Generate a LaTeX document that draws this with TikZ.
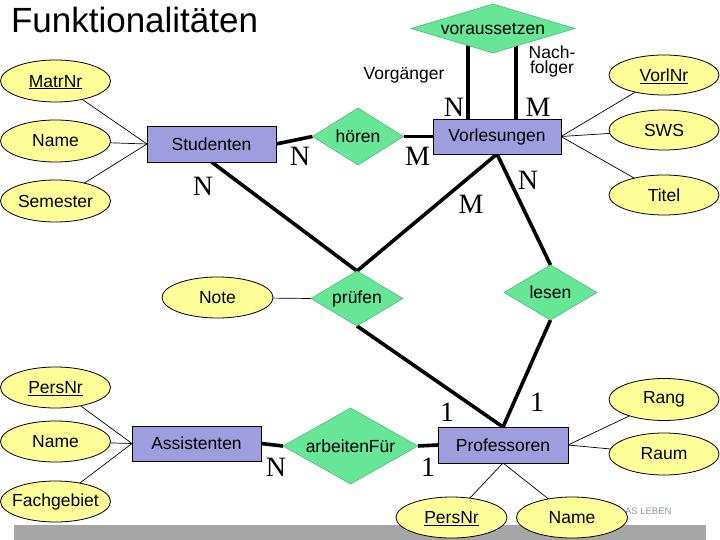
\documentclass[tikz,border=0pt]{standalone}
\usepackage{fontspec}
\setmainfont{Liberation Sans}
\newfontfamily\serifnum{Liberation Serif}
\usetikzlibrary{shapes.geometric,backgrounds,calc}
\definecolor{attrfill}{RGB}{255,255,153}
\definecolor{relfill}{RGB}{102,230,150}
\definecolor{reldraw}{RGB}{70,180,115}
\definecolor{entfill}{RGB}{158,158,222}
\definecolor{barfill}{RGB}{166,166,166}
\definecolor{logotext}{RGB}{140,150,165}
\newcommand\attxt[1]{\makebox[0pt]{#1}}
\newcommand\keyattr[1]{\makebox[0pt]{\raisebox{0pt}[\height][0pt]{\underline{#1}}}}
\begin{document}
\begin{tikzpicture}[x=1pt,y=-1pt,
  every node/.style={inner sep=0pt, outer sep=0pt},
  txt/.style={font=\fontsize{17.5}{20}\selectfont},
  attr/.style={ellipse, draw=black, line width=0.8pt, fill=attrfill, minimum width=110pt, minimum height=42pt, txt},
  entity/.style={rectangle, draw=black, line width=0.8pt, fill=entfill, minimum width=129pt, minimum height=36pt, txt},
  rel/.style={diamond, draw=reldraw, line width=0.5pt, fill=relfill, txt},
  card/.style={font=\serifnum\fontsize{28}{28}\selectfont},
  thin link/.style={line width=0.7pt},
  thick link/.style={line width=3.6pt},
]
\useasboundingbox (0,0) rectangle (720,540);

% title
\node[anchor=base west, font=\fontsize{35}{40}\selectfont] (title) at (11,33) {Funktionalitäten};

% entities
\node[entity] (stud) at (211.5,144) {Studenten};
\node[entity, minimum width=128pt, minimum height=35pt] (vorl) at (497,136.5) {Vorlesungen};
\node[entity, minimum height=35pt] (assist) at (196.5,443.5) {Assistenten};
\node[entity, minimum width=130pt] (prof) at (503,445) {Professoren};

% relationships
\node[rel, minimum width=164pt, minimum height=49pt, aspect=3.35] (vors) at (493,28.5) {voraussetzen};
\node[rel, minimum width=91pt, minimum height=57pt, aspect=1.6] (hoeren) at (358,136.5) {hören};
\node[rel, minimum width=92pt, minimum height=55pt, aspect=1.67] (pruefen) at (357,298.5) {prüfen};
\node[rel, minimum width=93pt, minimum height=55pt, aspect=1.69] (lesen) at (550.5,292.5) {lesen};
\node[rel, minimum width=135pt, minimum height=76pt, aspect=1.78] (arbeit) at (350.5,446) {arbeitenFür};

% attributes
\node[attr] (matr) at (55.5,81) {\keyattr{MatrNr}};
\node[attr] (sname) at (55.5,141) {\attxt{Name}};
\node[attr] (sem) at (55.5,201) {\attxt{Semester}};
\node[attr, minimum height=40pt] (vorlnr) at (664,75) {\keyattr{VorlNr}};
\node[attr, minimum height=40pt] (sws) at (664,130) {\attxt{SWS}};
\node[attr, minimum height=40pt] (titel) at (664,195) {\attxt{Titel}};
\node[attr, minimum width=111pt, minimum height=41pt] (note) at (217.5,297.5) {\attxt{Note}};
\node[attr, minimum height=41pt] (apers) at (55.5,387.5) {\keyattr{PersNr}};
\node[attr, minimum height=41pt] (aname) at (55.5,441.5) {\attxt{Name}};
\node[attr, minimum height=41pt] (fach) at (55.5,501.5) {\attxt{Fachgebiet}};
\node[attr] (rang) at (664,399.5) {\attxt{Rang}};
\node[attr] (raum) at (664,454) {\attxt{Raum}};
\node[attr, minimum width=111pt, minimum height=41pt] (ppers) at (451.5,517.5) {\keyattr{PersNr}};
\node[attr, minimum width=111pt, minimum height=41pt] (pname) at (572,517.5) {\attxt{Name}};

% role names
\node[txt] (vg) at (404,75) {Vorgänger};
\node[align=center, font=\fontsize{17.5}{15}\selectfont] (nf) at (552,61) {Nach-\\folger};

% cardinalities
\node[card] (c1) at (300,156) {N};
\node[card] (c2) at (417.5,156) {M};
\node[card] (c3) at (454,107) {N};
\node[card] (c4) at (538,107) {M};
\node[card] (c5) at (471,204) {M};
\node[card] (c6) at (528,180) {N};
\node[card] (c7) at (203,186) {N};
\node[card] (c8) at (447,412) {1};
\node[card] (c9) at (537,402) {1};
\node[card] (c10) at (428,467) {1};
\node[card] (c11) at (276,467) {N};

\coordinate (vpl) at ($(vorl.north)+(-29,0)$);
\coordinate (vpr) at ($(vorl.north)+(19,0)$);

\begin{pgfonlayer}{background}
  \fill[barfill] (14,525) rectangle (706,540);
  \node[anchor=west, font=\fontsize{9.5}{10}\selectfont, text=logotext] (logo) at (625,511.5) {AS LEBEN};
  % attribute links
  \draw[thin link] (matr) -- (stud.west);
  \draw[thin link] (sname) -- (stud.west);
  \draw[thin link] (sem) -- (stud.west);
  \draw[thin link] (vorlnr) -- (vorl.east);
  \draw[thin link] (sws) -- (vorl.east);
  \draw[thin link] (titel) -- (vorl.east);
  \draw[thin link] (note) -- (pruefen.west);
  \draw[thin link] (apers) -- (assist.west);
  \draw[thin link] (aname) -- (assist.west);
  \draw[thin link] (fach) -- (assist.west);
  \draw[thin link] (rang) -- (prof.east);
  \draw[thin link] (raum) -- (prof.east);
  \draw[thin link] (ppers) -- (prof.south);
  \draw[thin link] (pname) -- (prof.south);
  % relationship links
  \draw[thick link] (stud.east) -- (hoeren.west);
  \draw[thick link] (hoeren.east) -- (vorl.west);
  \draw[thick link] (vpl) -- (vpl |- vors.center);
  \draw[thick link] (vpr) -- (vpr |- vors.center);
  \draw[thick link] (stud.south) -- (pruefen.north);
  \draw[thick link] (vorl.south) -- (pruefen.north);
  \draw[thick link] (vorl.south) -- (lesen.north);
  \draw[thick link] (pruefen.south) -- (prof.north);
  \draw[thick link] (lesen.south) -- (prof.north);
  \draw[thick link] (assist.east) -- (arbeit.west);
  \draw[thick link] (arbeit.east) -- (prof.west);
\end{pgfonlayer}
\end{tikzpicture}
\end{document}
